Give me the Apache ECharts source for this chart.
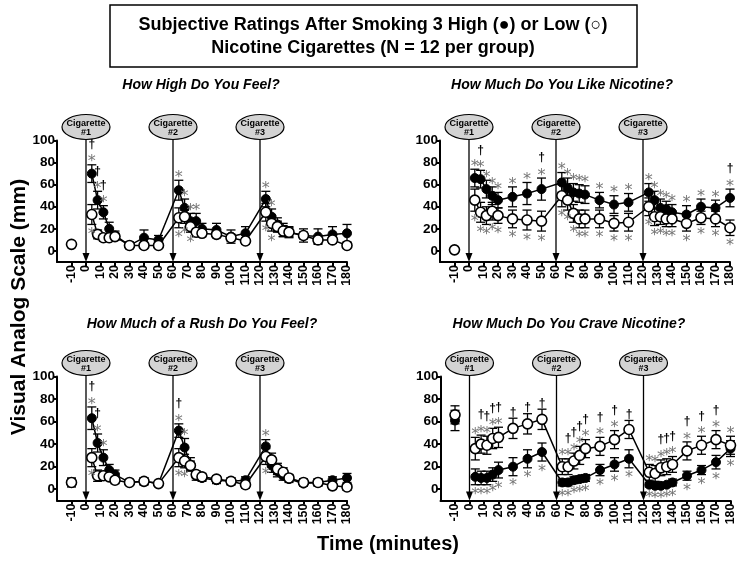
<!DOCTYPE html>
<html><head><meta charset="utf-8">
<script src="https://cdn.jsdelivr.net/npm/echarts@6/dist/echarts.min.js"></script>
<style>html,body{margin:0;padding:0;background:#fff}#c{width:746px;height:562px}</style>
</head><body><div id="c"></div>
<script>
// ---------- data ----------
const times = [-10, 4, 8, 12, 16, 20, 30, 40, 50, 64, 68, 72, 76, 80, 90, 100, 110, 124, 128, 132, 136, 140, 150, 160, 170, 180];
const xTicks = [-10, 0, 10, 20, 30, 40, 50, 60, 70, 80, 90, 100, 110, 120, 130, 140, 150, 160, 170, 180];
const yTicks = [0, 20, 40, 60, 80, 100];
const cigTimes = [0, 60, 120];
const cigLabels = ['#1', '#2', '#3'];
const panelTitles = ['How High Do You Feel?', 'How Much Do You Like Nicotine?', 'How Much of a Rush Do You Feel?', 'How Much Do You Crave Nicotine?'];

const highBlack    = [6, 70, 46, 35, 20, 14, 5, 12, 10, 55, 39, 27, 27, 20, 19, 13, 16, 47, 31, 24, 19, 17, 14, 13, 15, 16];
const highWhite    = [6, 33, 15, 12, 12, 13, 5, 5, 5, 30, 31, 22, 17, 16, 15, 12, 9, 35, 25, 22, 18, 17, 14, 10, 10, 5];
const highBlackSem = [2, 8, 8, 6, 6, 4, 3, 7, 4, 9, 8, 7, 7, 5, 6, 6, 6, 7, 7, 6, 6, 5, 6, 7, 7, 8];
const highWhiteSem = [2, 9, 4, 3, 3, 3, 2, 2, 2, 9, 6, 5, 4, 3, 3, 3, 3, 8, 7, 5, 5, 4, 3, 3, 3, 2];
const highAbove = ['', '†*', '†*', '†*', '', '', '', '', '', '*', '*', '*', '*', '', '', '', '', '*', '*', '', '', '', '', '', '', ''];
const highBelow = ['', '*', '', '', '', '', '', '', '', '*', '*', '*', '', '', '', '', '', '*', '*', '', '', '', '', '', '', ''];

const likeBlack    = [1, 66, 65, 56, 50, 46, 49, 52, 56, 62, 57, 53, 52, 51, 46, 42, 44, 53, 46, 39, 38, 35, 33, 40, 39, 48];
const likeWhite    = [1, 46, 35, 32, 36, 32, 29, 28, 27, 50, 46, 34, 29, 29, 29, 25, 26, 40, 31, 31, 29, 29, 25, 30, 29, 21];
const likeBlackSem = [1, 8, 8, 8, 8, 7, 9, 10, 10, 9, 9, 8, 8, 8, 7, 8, 8, 8, 8, 8, 7, 7, 8, 7, 7, 8];
const likeWhiteSem = [1, 10, 9, 8, 8, 7, 8, 9, 9, 10, 9, 8, 8, 8, 8, 7, 8, 8, 8, 7, 7, 7, 7, 6, 7, 7];
const likeAbove = ['', '*', '†*', '*', '*', '*', '*', '*', '†*', '*', '*', '*', '*', '*', '*', '*', '*', '*', '*', '*', '*', '*', '*', '*', '*', '†*'];
const likeBelow = ['', '*', '*', '*', '*', '*', '*', '*', '*', '*', '*', '*', '*', '*', '*', '*', '*', '*', '*', '*', '*', '*', '*', '*', '*', '*'];

const rushBlack    = [6, 63, 41, 28, 17, 13, 6, 7, 5, 52, 37, 22, 12, 10, 8, 7, 8, 38, 21, 16, 12, 9, 5, 6, 8, 10];
const rushWhite    = [6, 28, 12, 12, 11, 8, 6, 7, 5, 28, 25, 21, 13, 11, 9, 7, 4, 29, 26, 18, 15, 10, 6, 6, 3, 2];
const rushBlackSem = [3, 10, 8, 7, 5, 4, 2, 3, 2, 6, 8, 6, 4, 3, 3, 3, 3, 6, 6, 5, 4, 3, 2, 3, 3, 4];
const rushWhiteSem = [4, 8, 5, 4, 3, 3, 2, 3, 2, 8, 6, 4, 3, 3, 3, 3, 3, 7, 6, 5, 4, 3, 3, 3, 3, 3];
const rushAbove = ['', '†*', '†*', '*', '', '', '', '', '', '†*', '*', '', '', '', '', '', '', '*', '', '', '', '', '', '', '', ''];
const rushBelow = ['', '*', '', '', '', '', '', '', '', '*', '*', '', '', '', '', '', '', '*', '', '', '', '', '', '', '', ''];

const craveBlack    = [61, 11, 10, 10, 13, 17, 20, 27, 33, 6, 6, 8, 9, 10, 17, 22, 27, 4, 3, 3, 4, 6, 12, 17, 24, 36];
const craveWhite    = [66, 36, 40, 39, 45, 46, 54, 58, 62, 20, 20, 25, 30, 36, 38, 44, 53, 15, 14, 19, 20, 22, 34, 39, 44, 39];
const craveBlackSem = [9, 7, 6, 6, 6, 7, 8, 8, 8, 3, 3, 3, 3, 3, 5, 6, 8, 2, 2, 2, 2, 3, 4, 4, 6, 7];
const craveWhiteSem = [8, 10, 8, 8, 9, 9, 9, 9, 9, 7, 7, 7, 8, 8, 8, 8, 8, 7, 7, 7, 7, 7, 8, 8, 8, 8];
const craveAbove = ['', '*', '†*', '†*', '†*', '†*', '†', '†', '†', '*', '†*', '†*', '†*', '†*', '†*', '†*', '†', '*', '*', '†*', '†*', '†*', '†*', '†*', '†*', '*'];
const craveBelow = ['', '*', '*', '*', '*', '*', '*', '*', '*', '*', '*', '*', '*', '*', '*', '*', '*', '*', '*', '*', '*', '*', '*', '*', '*', '*'];

// ---------- layout ----------
const FONT = '"Liberation Sans", Arial, Helvetica, sans-serif';
const panels = [
  {black: highBlack,  white: highWhite,  bs: highBlackSem,  ws: highWhiteSem,  above: highAbove,  below: highBelow},
  {black: likeBlack,  white: likeWhite,  bs: likeBlackSem,  ws: likeWhiteSem,  above: likeAbove,  below: likeBelow},
  {black: rushBlack,  white: rushWhite,  bs: rushBlackSem,  ws: rushWhiteSem,  above: rushAbove,  below: rushBelow},
  {black: craveBlack, white: craveWhite, bs: craveBlackSem, ws: craveWhiteSem, above: craveAbove, below: craveBelow}
];
const gridBoxes = [
  {left: 57, top: 140.5, width: 290, height: 121.5},
  {left: 440, top: 140.5, width: 290, height: 121.5},
  {left: 57, top: 376.5, width: 290, height: 124},
  {left: 440.5, top: 376.5, width: 290, height: 124}
];
const titlePos = [[201, 85], [562, 85], [202, 324], [569, 324]];

const chart = echarts.init(document.getElementById('c'), null, {renderer: 'canvas'});

function errRender(params, api) {
  const x = api.value(0), y = api.value(1), s = api.value(2);
  const t = api.coord([x, y + s]), b = api.coord([x, y - s]);
  const w = 4.5, st = {stroke: '#000', lineWidth: 1.3};
  return {type: 'group', children: [
    {type: 'line', shape: {x1: t[0], y1: t[1], x2: b[0], y2: b[1]}, style: st},
    {type: 'line', shape: {x1: t[0] - w, y1: t[1], x2: t[0] + w, y2: t[1]}, style: st},
    {type: 'line', shape: {x1: b[0] - w, y1: b[1], x2: b[0] + w, y2: b[1]}, style: st}
  ]};
}

function markText(c, x, y) {
  if (c === '*') {
    return {type: 'text', x: x, y: y + 3.5, style: {text: '*', fill: '#767676', font: '16px "DejaVu Sans", sans-serif', align: 'center', verticalAlign: 'middle'}};
  }
  return {type: 'text', x: x, y: y, style: {text: '†', fill: '#000', font: 'bold 12px ' + FONT, align: 'center', verticalAlign: 'middle'}};
}
function markRenderFactory(p) {
  return function (params, api) {
    const x = api.value(0), up = api.value(1), lo = api.value(2), k = api.value(3);
    const pu = api.coord([x, up]), pl = api.coord([x, lo]);
    const children = [];
    const sa = p.above[k] || '';
    let yy = pu[1] - 6;
    for (let j = sa.length - 1; j >= 0; j--) {
      children.push(markText(sa[j], pu[0], yy));
      yy -= 14;
    }
    const sb = p.below[k] || '';
    yy = pl[1] + 7;
    for (let j = 0; j < sb.length; j++) {
      children.push(markText(sb[j], pl[0], yy));
      yy += 14;
    }
    return {type: 'group', children};
  };
}

function cigRender(params, api) {
  const t = api.value(0), k = api.value(1);
  const pt = api.coord([t, 100]), pb = api.coord([t, -10]);
  const x = pt[0], rx = 24, ry = 12.5, cy = pt[1] - ry - 1;
  return {type: 'group', children: [
    {type: 'line', shape: {x1: x, y1: cy + ry, x2: x, y2: pb[1] - 8}, style: {stroke: '#000', lineWidth: 1.3}},
    {type: 'polygon', shape: {points: [[x - 3.5, pb[1] - 9], [x + 3.5, pb[1] - 9], [x, pb[1]]]}, style: {fill: '#000'}},
    {type: 'ellipse', shape: {cx: x, cy: cy, rx: rx, ry: ry}, style: {fill: '#d3d3d3', stroke: '#000', lineWidth: 1.2}},
    {type: 'text', x: x, y: cy - 3.5, style: {text: 'Cigarette', fill: '#000', font: 'bold 9px ' + FONT, align: 'center', verticalAlign: 'middle'}},
    {type: 'text', x: x, y: cy + 5.5, style: {text: cigLabels[k], fill: '#000', font: 'bold 9px ' + FONT, align: 'center', verticalAlign: 'middle'}}
  ]};
}

const series = [];
panels.forEach((p, i) => {
  const ax = {xAxisIndex: i, yAxisIndex: i};
  series.push(Object.assign({type: 'custom', clip: false, z: 1, renderItem: errRender,
    data: times.map((t, k) => [t, p.black[k], p.bs[k]]).concat(times.map((t, k) => [t, p.white[k], p.ws[k]]))}, ax));
  series.push(Object.assign({type: 'custom', clip: false, z: 1, renderItem: cigRender,
    data: cigTimes.map((t, k) => [t, k])}, ax));
  series.push(Object.assign({type: 'line', z: 3, symbol: 'circle', symbolSize: 9, silent: true,
    lineStyle: {color: '#000', width: 1.5}, itemStyle: {color: '#000', borderColor: '#000', borderWidth: 1},
    data: times.slice(1).map((t, k) => [t, p.black[k + 1]])}, ax));
  series.push(Object.assign({type: 'line', z: 4, symbol: 'circle', symbolSize: 10, silent: true,
    lineStyle: {color: '#000', width: 1.5}, itemStyle: {color: '#fff', borderColor: '#000', borderWidth: 1.6},
    data: times.slice(1).map((t, k) => [t, p.white[k + 1]])}, ax));
  series.push(Object.assign({type: 'scatter', z: 3, symbol: 'circle', symbolSize: 9, silent: true,
    itemStyle: {color: '#000', borderColor: '#000', borderWidth: 1, opacity: 1},
    data: [[times[0], p.black[0]]]}, ax));
  series.push(Object.assign({type: 'scatter', z: 4, symbol: 'circle', symbolSize: 10, silent: true,
    itemStyle: {color: '#fff', borderColor: '#000', borderWidth: 1.6, opacity: 1},
    data: [[times[0], p.white[0]]]}, ax));
  series.push(Object.assign({type: 'custom', clip: false, z: 5, renderItem: markRenderFactory(p),
    data: times.map((t, k) => [t,
      Math.max(p.black[k] + p.bs[k], p.white[k] + p.ws[k]),
      Math.min(p.black[k] - p.bs[k], p.white[k] - p.ws[k]), k])}, ax));
});

const axisFont = {color: '#000', fontWeight: 'bold', fontSize: 12.5, fontFamily: FONT};
const option = {
  animation: false,
  backgroundColor: '#fff',
  textStyle: {fontFamily: FONT},
  grid: gridBoxes,
  xAxis: gridBoxes.map((g, i) => ({
    gridIndex: i, type: 'value', min: -20, max: 180,
    splitLine: {show: false},
    axisLine: {onZero: false, lineStyle: {color: '#000', width: 2}},
    axisTick: {customValues: xTicks, length: 4, lineStyle: {color: '#000', width: 2}},
    axisLabel: Object.assign({customValues: xTicks, rotate: 90, margin: 3, formatter: v => String(v)}, axisFont)
  })),
  yAxis: gridBoxes.map((g, i) => ({
    gridIndex: i, type: 'value', min: -10, max: 100,
    splitLine: {show: false},
    axisLine: {onZero: false, lineStyle: {color: '#000', width: 2}},
    axisTick: {customValues: yTicks, length: 4, lineStyle: {color: '#000', width: 2}},
    axisLabel: Object.assign({customValues: yTicks, margin: 2}, axisFont, {fontSize: 13.5})
  })),
  graphic: [
    {type: 'rect', shape: {x: 110, y: 5, width: 527, height: 62}, style: {fill: '#fff', stroke: '#000', lineWidth: 1.5}},
    {type: 'text', x: 373, y: 25, style: {text: 'Subjective Ratings After Smoking 3 High (\u25CF) or Low (\u25CB)', fill: '#000', font: 'bold 18px ' + FONT, align: 'center', verticalAlign: 'middle'}},
    {type: 'text', x: 373, y: 48, style: {text: 'Nicotine Cigarettes (N = 12 per group)', fill: '#000', font: 'bold 18px ' + FONT, align: 'center', verticalAlign: 'middle'}},
    ...panelTitles.map((t, i) => ({type: 'text', x: titlePos[i][0], y: titlePos[i][1], style: {text: t, fill: '#000', font: 'italic bold 14px ' + FONT, align: 'center', verticalAlign: 'middle'}})),
    {type: 'text', x: 19, y: 307, rotation: Math.PI / 2, style: {text: 'Visual Analog Scale (mm)', fill: '#000', font: 'bold 21px ' + FONT, align: 'center', verticalAlign: 'middle'}},
    {type: 'text', x: 388, y: 544, style: {text: 'Time (minutes)', fill: '#000', font: 'bold 20px ' + FONT, align: 'center', verticalAlign: 'middle'}}
  ],
  series: series
};
chart.setOption(option);
</script>
</body></html>
